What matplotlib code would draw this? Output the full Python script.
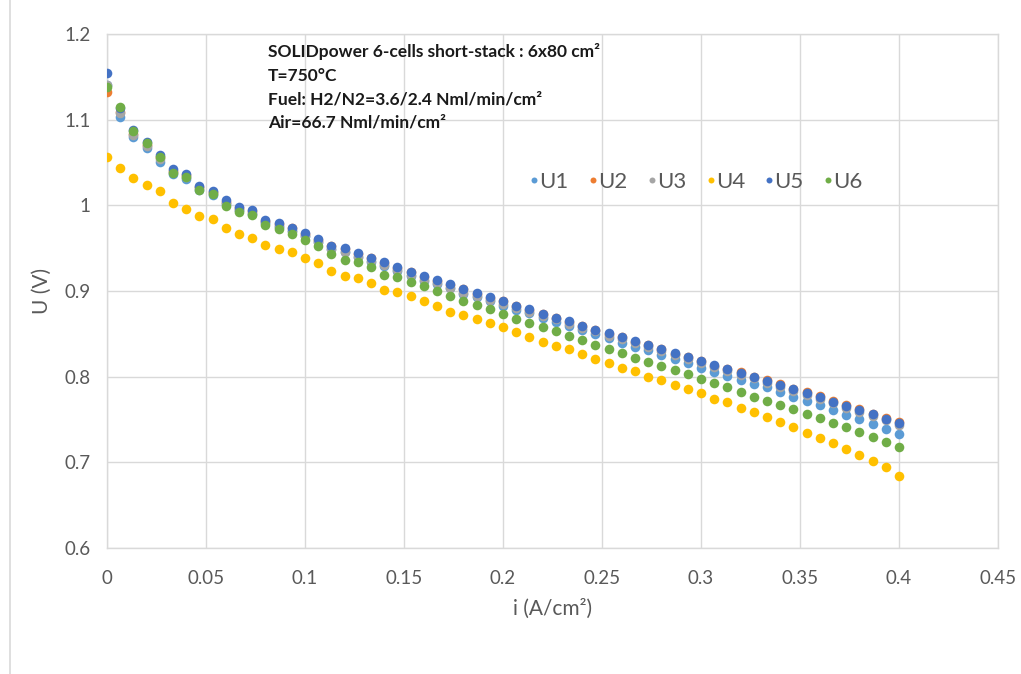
import matplotlib
matplotlib.use("Agg")
import matplotlib.pyplot as plt
import numpy as np
from matplotlib.lines import Line2D

# current density steps (0 .. 0.4 A/cm², 61 points)
I_STEP = 0.4 / 60
I_VALS = [round(k * I_STEP, 5) for k in range(61)]

U1 = [1.1405, 1.1035, 1.0794, 1.0666, 1.051, 1.037, 1.031, 1.018, 1.012, 1.001,
      0.994, 0.990, 0.979, 0.975, 0.970, 0.964, 0.957, 0.949, 0.946, 0.940,
      0.934, 0.929, 0.923, 0.918, 0.912, 0.908, 0.903, 0.897, 0.893, 0.888,
      0.883, 0.878, 0.874, 0.8682, 0.8635, 0.8593, 0.8546, 0.8496, 0.845, 0.8398,
      0.8352, 0.831, 0.8254, 0.8204, 0.8157, 0.8106, 0.806, 0.8013, 0.7966, 0.7916,
      0.7874, 0.782, 0.7764, 0.7718, 0.7667, 0.7613, 0.7558, 0.7504, 0.745, 0.7395,
      0.733]
U2 = [1.132, 1.109, 1.083, 1.070, 1.056, 1.040, 1.035, 1.021, 1.016, 1.004,
      0.997, 0.993, 0.982, 0.978, 0.973, 0.967, 0.960, 0.952, 0.949, 0.943,
      0.938, 0.933, 0.927, 0.922, 0.916, 0.912, 0.907, 0.902, 0.897, 0.892,
      0.888, 0.882, 0.878, 0.873, 0.869, 0.864, 0.859, 0.855, 0.850, 0.846,
      0.841, 0.837, 0.832, 0.827, 0.823, 0.818, 0.813, 0.809, 0.805, 0.800,
      0.796, 0.791, 0.786, 0.782, 0.777, 0.772, 0.767, 0.762, 0.757, 0.752,
      0.747]
U3 = [1.140, 1.108, 1.082, 1.069, 1.054, 1.039, 1.033, 1.020, 1.014, 1.003,
      0.995, 0.991, 0.980, 0.976, 0.970, 0.964, 0.957, 0.949, 0.946, 0.940,
      0.935, 0.930, 0.924, 0.919, 0.913, 0.909, 0.904, 0.898, 0.894, 0.889,
      0.885, 0.880, 0.876, 0.871, 0.867, 0.862, 0.857, 0.853, 0.848, 0.844,
      0.839, 0.835, 0.830, 0.825, 0.821, 0.816, 0.811, 0.807, 0.802, 0.798,
      0.793, 0.788, 0.783, 0.779, 0.774, 0.769, 0.764, 0.759, 0.754, 0.749,
      0.744]
U4 = [1.0565, 1.0433, 1.032, 1.0234, 1.0165, 1.003, 0.996, 0.9876, 0.984, 0.9733,
      0.9666, 0.9616, 0.954, 0.9495, 0.945, 0.939, 0.9328, 0.9238, 0.9176, 0.9157,
      0.9098, 0.901, 0.899, 0.894, 0.888, 0.8826, 0.876, 0.8725, 0.867, 0.8624,
      0.8578, 0.8523, 0.8464, 0.8406, 0.8363, 0.832, 0.827, 0.8208, 0.816, 0.8106,
      0.8064, 0.800, 0.796, 0.7904, 0.7854, 0.7805, 0.7745, 0.770, 0.764, 0.7585,
      0.7527, 0.7476, 0.741, 0.7348, 0.729, 0.7228, 0.716, 0.7084, 0.701, 0.694,
      0.6843]
U5 = [1.155, 1.114, 1.088, 1.074, 1.059, 1.042, 1.036, 1.023, 1.017, 1.006,
      0.9985, 0.994, 0.983, 0.9795, 0.974, 0.968, 0.961, 0.953, 0.950, 0.944,
      0.9386, 0.9336, 0.928, 0.9226, 0.917, 0.9126, 0.908, 0.902, 0.898, 0.893,
      0.888, 0.8826, 0.8787, 0.8736, 0.869, 0.8647, 0.8596, 0.855, 0.8507, 0.846,
      0.8414, 0.8367, 0.832, 0.8274, 0.8227, 0.8178, 0.8134, 0.809, 0.8044, 0.7998,
      0.7955, 0.7904, 0.7854, 0.781, 0.7764, 0.771, 0.766, 0.7616, 0.7562, 0.7511,
      0.746]
U6 = [1.1385, 1.115, 1.0868, 1.0732, 1.056, 1.038, 1.0327, 1.018, 1.013, 0.9997,
      0.992, 0.9884, 0.977, 0.9725, 0.9667, 0.9596, 0.953, 0.9433, 0.9367, 0.934,
      0.9285, 0.9192, 0.916, 0.9106, 0.9056, 0.900, 0.8943, 0.8888, 0.8834, 0.8788,
      0.8733, 0.8678, 0.8631, 0.8578, 0.853, 0.8476, 0.843, 0.8375, 0.8328, 0.828,
      0.8223, 0.8176, 0.813, 0.8075, 0.803, 0.797, 0.7928, 0.7877, 0.7826, 0.7768,
      0.772, 0.7675, 0.762, 0.7566, 0.752, 0.7457, 0.741, 0.7356, 0.7294, 0.7236,
      0.7185]

SERIES = (("U1", U1, "#5B9BD5"), ("U2", U2, "#ED7D31"), ("U3", U3, "#A5A5A5"),
          ("U4", U4, "#FFC000"), ("U5", U5, "#4472C4"), ("U6", U6, "#70AD47"))

NOTE = ["SOLIDpower 6-cells short-stack : 6x80 cm²",
        "T=750°C",
        "Fuel: H2/N2=3.6/2.4 Nml/min/cm²",
        "Air=66.7 Nml/min/cm²"]

X_TICKS = [0, 0.05, 0.1, 0.15, 0.2, 0.25, 0.3, 0.35, 0.4, 0.45]
X_TICKLABELS = ["0", "0.05", "0.1", "0.15", "0.2", "0.25", "0.3", "0.35", "0.4", "0.45"]
Y_TICKS = [0.6, 0.7, 0.8, 0.9, 1.0, 1.1, 1.2]
Y_TICKLABELS = ["0.6", "0.7", "0.8", "0.9", "1", "1.1", "1.2"]

GRID = "#D9D9D9"
TXT = "#595959"


def main() -> None:
    plt.rcParams["font.family"] = ["Lato", "DejaVu Sans"]
    fig = plt.figure(figsize=(10.21, 6.74), dpi=100)
    ax = fig.add_axes([0.1048, 0.1869, 0.8727, 0.7627])

    x = np.array(I_VALS)
    for name, vals, col in SERIES:
        ax.scatter(x, vals, s=48, color=col, label=name, zorder=3, linewidths=0)

    ax.set_xlim(0, 0.45)
    ax.set_ylim(0.6, 1.2)
    ax.set_xticks(X_TICKS)
    ax.set_xticklabels(X_TICKLABELS)
    ax.set_yticks(Y_TICKS)
    ax.set_yticklabels(Y_TICKLABELS)
    ax.grid(True, color=GRID, lw=1, zorder=0)
    ax.set_axisbelow(True)
    for sp in ax.spines.values():
        sp.set_color(GRID)
        sp.set_linewidth(1)
    ax.tick_params(length=0, labelsize=13.5, labelcolor=TXT)
    ax.tick_params(axis="x", pad=16)
    ax.tick_params(axis="y", pad=12)

    ax.set_xlabel("i (A/cm²)", fontsize=15, color=TXT, labelpad=8)
    ax.set_ylabel("U (V)", fontsize=15, color=TXT, labelpad=9)

    for k, line in enumerate(NOTE):
        fig.text(268 / 1021, 1 - (52 + 23.6 * k) / 674, line, fontsize=12.5,
                 fontweight="bold", color="#1a1a1a", va="center", ha="left")

    leg = ax.legend(loc="center left", bbox_to_anchor=(0.462, 0.712), ncol=6,
                    frameon=False, fontsize=16, borderpad=0, handlelength=0.4,
                    handletextpad=0.03, columnspacing=0.9, markerscale=0.62,
                    scatteryoffsets=[0.5])
    for t in leg.get_texts():
        t.set_color(TXT)

    # chart-area border on the left
    fig.add_artist(Line2D([10 / 1021, 10 / 1021], [0, 1], color=GRID, lw=1.2,
                          transform=fig.transFigure))

    fig.savefig("out.png", dpi=100)
    plt.close(fig)


if __name__ == "__main__":
    main()
